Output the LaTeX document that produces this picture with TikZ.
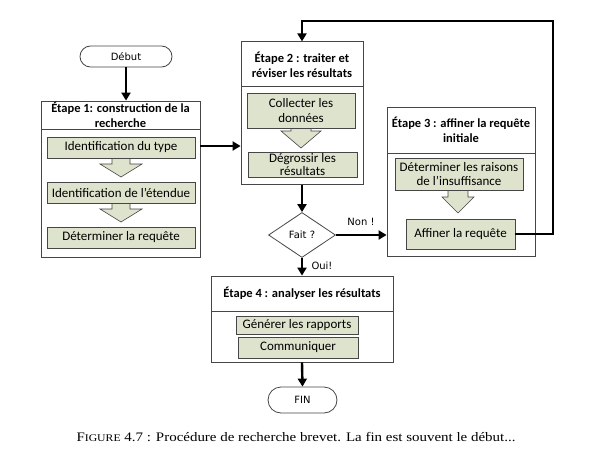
\documentclass[tikz,border=0pt]{standalone}
\usepackage{fontspec}
\setmainfont{Carlito}
\newfontfamily\dejavu{DejaVu Sans}
\newfontfamily\capfont[FakeStretch=1.15]{Liberation Serif}
\usetikzlibrary{shapes.geometric,shapes.misc,arrows.meta}
\definecolor{boxfill}{RGB}{221,227,204}
\definecolor{edgegray}{RGB}{70,70,70}
\newcommand{\blkarrow}[6]{%
  \draw[barrow] ({#1-#5},#2) -- ({#1-#5},#3) -- ({#1-#6},#3) -- (#1,#4) -- ({#1+#6},#3) -- ({#1+#5},#3) -- ({#1+#5},#2);}
\begin{document}
\begin{tikzpicture}[x=1pt,y=-1pt,
 stage/.style={draw=edgegray,line width=0.8pt,fill=white,inner sep=0pt},
 hdr/.style={draw=edgegray,line width=0.8pt,inner sep=1pt,align=center,font=\fontsize{12.5}{15}\selectfont\bfseries},
 task/.style={draw=edgegray,line width=0.8pt,fill=boxfill,inner sep=0.5pt,align=center,font=\fontsize{13}{14.3}\selectfont},
 term/.style={draw=edgegray,line width=0.8pt,rounded rectangle,inner sep=0pt,font=\dejavu\fontsize{10}{11}\selectfont},
 decision/.style={draw=edgegray,line width=0.8pt,diamond,inner sep=0pt,font=\dejavu\fontsize{10}{11}\selectfont},
 conn/.style={line width=2.4pt,-{Triangle[length=8pt,width=9pt]}},
 barrow/.style={draw=edgegray,line width=0.6pt,fill=boxfill},
 lbl/.style={font=\dejavu\fontsize{10}{11}\selectfont}
]
\fill[white] (0,0) rectangle (594,471);
\useasboundingbox (0,0) rectangle (594,471);

% Stage 1
\node[stage,minimum width=159,minimum height=156] (e1) at (120.5,179) {};
\node[hdr,minimum width=159,minimum height=28,anchor=north] (e1h) at (e1.north) {Étape 1: construction de la\\recherche};
\blkarrow{121}{158}{164}{177}{9}{21}
\blkarrow{121}{203}{209}{222}{9}{21}
\node[task,minimum width=148,minimum height=21] (t11) at (121,147.5) {Identification du type};
\node[task,minimum width=148,minimum height=21] (t12) at (121,192.5) {Identification de l’étendue};
\node[task,minimum width=148,minimum height=21] (t13) at (121,237.5) {Déterminer la requête};

% Stage 2
\node[stage,minimum width=122,minimum height=143] (e2) at (302,113.3) {};
\node[hdr,minimum width=122,minimum height=45,anchor=north] (e2h) at (e2.north) {Étape 2 : traiter et\\réviser les résultats};
\blkarrow{301}{128}{131}{148}{10}{20}
\node[task,minimum width=108,minimum height=35] (t21) at (301,110.5) {Collecter les\\données};
\node[task,minimum width=109,minimum height=25,inner sep=0pt,font=\fontsize{13}{12.5}\selectfont] (t22) at (302.5,164.5) {Dégrossir les\\résultats};

% Stage 3
\node[stage,minimum width=148,minimum height=149] (e3) at (461,181.5) {};
\node[hdr,minimum width=148,minimum height=46,anchor=north] (e3h) at (e3.north) {Étape 3 : affiner la requête\\initiale};
\blkarrow{458}{190}{197}{213}{10}{16}
\node[task,minimum width=128,minimum height=32] (t31) at (459,174) {Déterminer les raisons\\de l’insuffisance};
\node[task,minimum width=109,minimum height=30] (t32) at (460.5,234) {Affiner la requête};

% Stage 4
\node[stage,minimum width=182,minimum height=86] (e4) at (302,319) {};
\node[hdr,minimum width=182,minimum height=35,anchor=north] (e4h) at (e4.north) {Étape 4 : analyser les résultats};
\node[task,minimum width=122,minimum height=18] (t41) at (297,325) {Générer les rapports};
\node[task,minimum width=120,minimum height=21] (t42) at (298,347.5) {Communiquer};

% Terminals and decision
\node[term,minimum width=92,minimum height=21] (debut) at (126,56.5) {Début};
\node[term,minimum width=69,minimum height=26] (fin) at (302.5,400) {FIN};
\node[decision,minimum width=67,minimum height=45] (fait) at (302,235) {Fait ?};

% Connectors
\draw[conn] (debut.south) -- (debut.south |- e1.north);
\draw[conn] (e1.east |- 0,146) -- (e2.west |- 0,146);
\draw[conn] (e2.south) -- (fait.north);
\draw[conn] (fait.east) -- (fait.east -| e3.west);
\draw[conn] (fait.south) -- (fait.south |- e4.north);
\draw[conn] (e4.south) -- (fin.north);
\coordinate (loopc) at (553,21);
\draw[conn] (t32.east) -| (loopc) -| (e2.north);

\node[lbl] (non) at (361,222) {Non !};
\node[lbl] (oui) at (322,266) {Oui!};

% Caption
\node[font=\capfont\fontsize{13}{16}\selectfont] (cap) at (296,437) {F{\fontsize{10.2}{16}\selectfont IGURE} 4.7 : Procédure de recherche brevet. La fin est souvent le début...};
\end{tikzpicture}
\end{document}
